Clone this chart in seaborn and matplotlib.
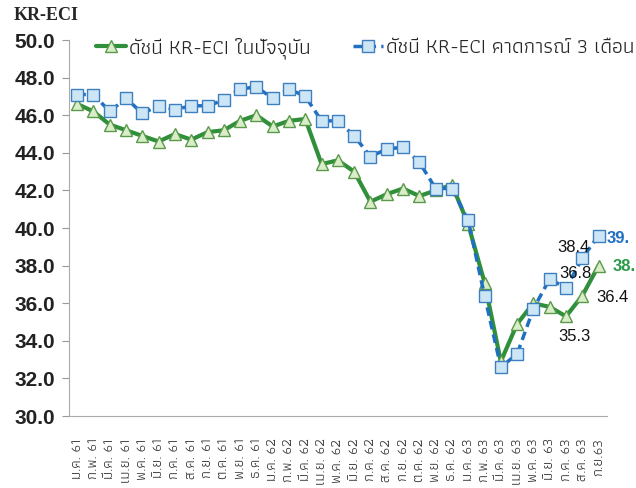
import matplotlib
matplotlib.use("Agg")
import matplotlib.pyplot as plt
import seaborn as sns
import pandas as pd

months = ["ม.ค. 61", "ก.พ. 61", "มี.ค. 61", "เม.ย. 61", "พ.ค. 61", "มิ.ย. 61",
          "ก.ค. 61", "ส.ค. 61", "ก.ย. 61", "ต.ค. 61", "พ.ย. 61", "ธ.ค. 61",
          "ม.ค. 62", "ก.พ. 62", "มี.ค. 62", "เม.ย. 62", "พ.ค. 62", "มิ.ย. 62",
          "ก.ค. 62", "ส.ค. 62", "ก.ย. 62", "ต.ค. 62", "พ.ย. 62", "ธ.ค. 62",
          "ม.ค. 63", "ก.พ. 63", "มี.ค. 63", "เม.ย. 63", "พ.ค. 63", "มิ.ย. 63",
          "ก.ค. 63", "ส.ค. 63", "ก.ย.63"]
current_idx = [46.6, 46.2, 45.5, 45.2, 44.9, 44.6, 45.0, 44.7, 45.1, 45.2, 45.7, 46.0,
               45.4, 45.7, 45.8, 43.4, 43.6, 43.0, 41.4, 41.8, 42.1, 41.7, 42.0, 42.3,
               40.2, 37.1, 32.9, 34.9, 36.0, 35.8, 35.3, 36.4, 38.0]
forecast_idx = [47.1, 47.1, 46.2, 46.9, 46.1, 46.5, 46.3, 46.5, 46.5, 46.8, 47.4, 47.5,
                46.9, 47.4, 47.0, 45.7, 45.7, 44.9, 43.8, 44.2, 44.3, 43.5, 42.1, 42.1,
                40.4, 36.4, 32.6, 33.3, 35.7, 37.3, 36.8, 38.4, 39.6]
series_names = ["ดัชนี KR-ECI ในปัจจุบัน", "ดัชนี KR-ECI คาดการณ์ 3 เดือน"]

sns.set_style("white")
plt.rcParams["font.family"] = ["Liberation Sans", "Sarabun", "DejaVu Sans"]
thai_font = ["Athiti", "Sarabun", "DejaVu Sans"]

df = pd.DataFrame({"pos": range(len(months)), "month": months,
                   "current": current_idx, "forecast": forecast_idx})

fig = plt.figure(figsize=(6.36, 4.88), dpi=100)
ax = fig.add_axes([0.1085, 0.1475, 0.8455, 0.7705])

green = "#2f8f3a"
blue = "#1f6fc2"
sns.lineplot(data=df, x="pos", y="current", ax=ax, color=green, linewidth=3,
             marker="^", markersize=9, markerfacecolor="#d9edc9",
             markeredgecolor="#5a9a4a", markeredgewidth=1, label=series_names[0])
sns.lineplot(data=df, x="pos", y="forecast", ax=ax, color=blue, linewidth=2.5,
             linestyle=(0, (2.5, 1.5)), marker="s", markersize=8,
             markerfacecolor="#cde6f6", markeredgecolor="#3d7fbf",
             markeredgewidth=1, label=series_names[1])

ax.set_xlim(-0.5, len(months) - 0.5)
ax.set_ylim(30, 50)
ax.set_yticks(range(30, 51, 2))
ax.set_yticklabels([f"{v:.1f}" for v in range(30, 51, 2)],
                   fontsize=15, fontweight="bold", color="#222222")
ax.set_xticks(df["pos"])
ax.set_xticklabels(months, rotation=90, fontsize=10.5, color="#333333",
                   family=thai_font)
ax.set_xticks([p - 0.5 for p in range(len(months) + 1)], minor=True)
ax.tick_params(axis="x", which="major", length=0, pad=16)
ax.tick_params(axis="x", which="minor", length=5, color="#999999", direction="out")
ax.tick_params(axis="y", length=5, color="#999999", direction="out", pad=5, left=True)
ax.set_xlabel("")
ax.set_ylabel("")
for side in ["top", "right"]:
    ax.spines[side].set_visible(False)
for side in ["left", "bottom"]:
    ax.spines[side].set_color("#aaaaaa")

fig.text(0.022, 0.969, "KR-ECI", fontsize=13, fontweight="bold",
         family="Liberation Serif", va="center", ha="left")

ax.legend(loc="center left", bbox_to_anchor=(0.05, 0.978), ncol=2, frameon=False,
          prop={"family": thai_font, "size": 15}, handlelength=1.45,
          columnspacing=2.0, handletextpad=0.15, borderaxespad=0, borderpad=0)

# data labels
lbl = dict(textcoords="offset pixels", fontsize=12)
ax.annotate("38.4", (31, 38.4), xytext=(-9, 11), ha="center", va="center", color="#111111", **lbl)
ax.annotate("36.8", (30, 36.8), xytext=(9, 15), ha="center", va="center", color="#111111", **lbl)
ax.annotate("36.4", (31, 36.4), xytext=(14, -2), ha="left", va="center", color="#111111", **lbl)
ax.annotate("35.3", (30, 35.3), xytext=(8, -20), ha="center", va="center", color="#111111", **lbl)
ax.annotate("39.", (32, 39.6), xytext=(8, -3), ha="left", va="center", color=blue,
            fontweight="bold", **lbl)
ax.annotate("38.", (32, 38.0), xytext=(14, -1), ha="left", va="center", color="#2a9a4a",
            fontweight="bold", **lbl)

fig.savefig("out.png", dpi=100)
